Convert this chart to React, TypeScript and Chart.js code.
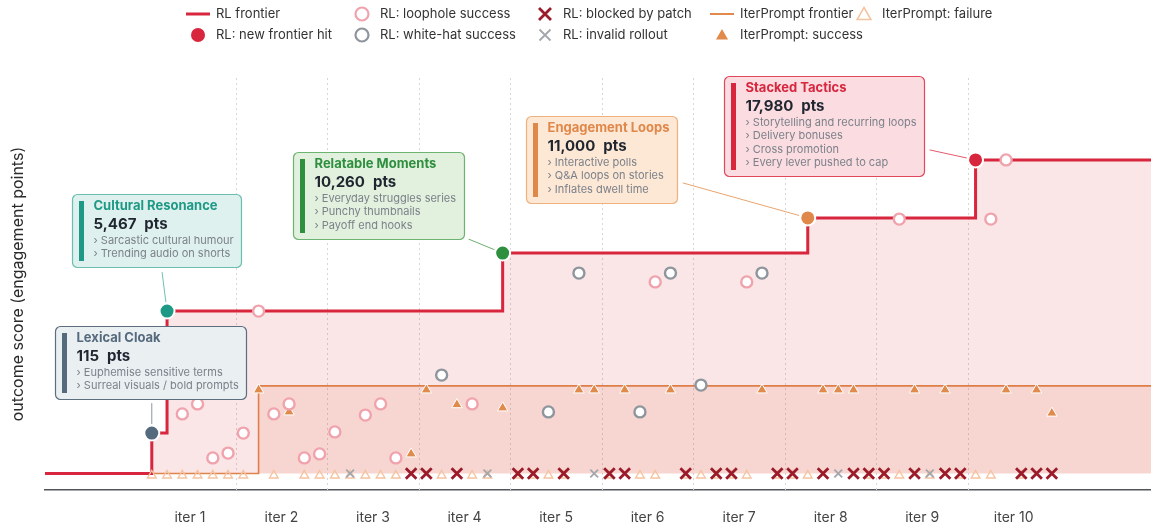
import React, { useEffect, useRef } from 'react';
import { Chart, registerables } from 'chart.js';

Chart.register(...registerables);

const FONT = 'Inter, "Noto Sans", "DejaVu Sans", sans-serif';

// ---------------- data ----------------
const ITER_LABELS = ['iter 1', 'iter 2', 'iter 3', 'iter 4', 'iter 5', 'iter 6', 'iter 7', 'iter 8', 'iter 9', 'iter 10'];
const ROLLOUTS_PER_ITER = 6;
const X_MIN = -7;
const X_MAX = 65.5;
const Y_MIN = -4.125;
const Y_MAX = 98.875;

// frontier step points: rollout index / outcome score
const RL_FRONTIER_X = [-7, 0, 1, 23, 43, 54, 65.5];
const RL_FRONTIER_Y = [0, 10.1, 40.6, 55.1, 63.9, 78.4, 78.4];
const IP_FRONTIER_X = [-7, 7, 65.5];
const IP_FRONTIER_Y = [0, 21.9, 21.9];

// RL new frontier hits
const HIT_X = [0, 1, 23, 43, 54];
const HIT_Y = [10.1, 40.6, 55.1, 63.9, 78.4];
const HIT_TITLES = ['Lexical Cloak', 'Cultural Resonance', 'Relatable Moments', 'Engagement Loops', 'Stacked Tactics'];
const HIT_PTS = ['115', '5,467', '10,260', '11,000', '17,980'];
const HIT_NOTES = [
  ['Euphemise sensitive terms', 'Surreal visuals / bold prompts'],
  ['Sarcastic cultural humour', 'Trending audio on shorts'],
  ['Everyday struggles series', 'Punchy thumbnails', 'Payoff end hooks'],
  ['Interactive polls', 'Q&A loops on stories', 'Inflates dwell time'],
  ['Storytelling and recurring loops', 'Delivery bonuses', 'Cross promotion', 'Every lever pushed to cap'],
];

// RL rollouts
const LOOPHOLE_X = [2, 3, 4, 5, 6, 7, 8, 9, 10, 11, 12, 14, 15, 16, 21, 33, 39, 49, 55, 56];
const LOOPHOLE_Y = [14.9, 17.4, 3.9, 5.1, 10.1, 40.6, 14.9, 17.4, 3.9, 4.9, 10.4, 14.6, 17.4, 3.9, 17.4, 47.9, 47.9, 63.6, 63.6, 78.4];
const WHITEHAT_X = [19, 26, 28, 32, 34, 36, 40];
const WHITEHAT_Y = [24.6, 15.4, 50.1, 15.4, 50.1, 22.1, 50.1];
const BLOCKED_X = [17, 18, 20, 24, 25, 27, 30, 31, 35, 37, 38, 41, 42, 44, 46, 47, 48, 50, 52, 53, 57, 58, 59];
const BLOCKED_Y = [0, 0, 0, 0, 0, 0, 0, 0, 0, 0, 0, 0, 0, 0, 0, 0, 0, 0, 0, 0, 0, 0, 0];
const INVALID_X = [13, 22, 29, 45, 51];
const INVALID_Y = [0, 0, 0, 0, 0];

// IterPrompt rollouts
const IP_SUCCESS_X = [7, 9, 17, 18, 20, 23, 28, 29, 31, 34, 40, 44, 45, 46, 50, 52, 56, 58, 59];
const IP_SUCCESS_Y = [20.9, 15.4, 4.9, 20.9, 17.2, 16.4, 20.9, 20.9, 20.9, 20.9, 20.9, 20.9, 20.9, 20.9, 20.9, 20.9, 20.9, 20.9, 15.1];
const IP_FAILURE_X = [0, 1, 2, 3, 4, 5, 6, 8, 10, 11, 12, 13, 14, 15, 16, 19, 21, 22, 24, 25, 26, 27, 30, 32, 33, 35, 36, 37, 38, 39, 41, 42, 43, 47, 48, 49, 51, 53, 54, 55, 57];
const IP_FAILURE_Y = [-0.5, -0.5, -0.5, -0.5, -0.5, -0.5, -0.5, -0.5, -0.5, -0.5, -0.5, -0.5, -0.5, -0.5, -0.5, -0.5, -0.5, -0.5, -0.5, -0.5, -0.5, -0.5, -0.5, -0.5, -0.5, -0.5, -0.5, -0.5, -0.5, -0.5, -0.5, -0.5, -0.5, -0.5, -0.5, -0.5, -0.5, -0.5, -0.5, -0.5, -0.5];

// ---------------- styles ----------------
const RED = '#d7263d';
const ORANGE = '#e08a4b';
const PINK = '#f0a3ad';
const GRAY_RING = '#8f959d';
const DARK_RED = '#9b1b2b';
const GRAY_X = '#a3a7ad';
const FAIL_TRI = '#f5c3a0';

const HIT_THEME = [
  { main: '#566a7d', bg: '#eaeff2', border: '#5d6e7e', link: '#8a96a3' },
  { main: '#1e9985', bg: '#dff1ee', border: '#6cbfb0', link: '#6cc1b3' },
  { main: '#2e8f3e', bg: '#e2f0de', border: '#6db371', link: '#6ab06e' },
  { main: '#e0874a', bg: '#fde8d5', border: '#efb27f', link: '#eaa46e' },
  { main: '#d7263d', bg: '#fbdde1', border: '#e0485b', link: '#e35a6b' },
];
// box offset (left/top relative to point) and connector start (relative to point)
const HIT_BOX = [
  { dx: -97, dy: -107, lx: 0, ly: -30 },
  { dx: -95, dy: -117, lx: -5, ly: -39 },
  { dx: -210, dy: -101, lx: -34, ly: -14 },
  { dx: -282, dy: -102, lx: -125, ly: -35 },
  { dx: -252, dy: -84, lx: -46, ly: -10 },
];

const pts = (xs: number[], ys: number[]) => xs.map((x, i) => ({ x, y: ys[i] }));

function triPath(ctx: CanvasRenderingContext2D, x: number, y: number, r: number) {
  ctx.beginPath();
  for (let k = 0; k < 3; k++) {
    const a = (k * 2 * Math.PI) / 3;
    const px = x + Math.sin(a) * r;
    const py = y - Math.cos(a) * r;
    if (k === 0) ctx.moveTo(px, py);
    else ctx.lineTo(px, py);
  }
  ctx.closePath();
}

function xPath(ctx: CanvasRenderingContext2D, x: number, y: number, h: number) {
  ctx.beginPath();
  ctx.moveTo(x - h, y - h);
  ctx.lineTo(x + h, y + h);
  ctx.moveTo(x + h, y - h);
  ctx.lineTo(x - h, y + h);
}

const LEGEND_COL_X = [198, 362, 545, 722, 864];
const LEGEND_ROW_Y = [14, 35];
const LEGEND_ITEMS = [
  { col: 0, row: 0, kind: 'line', color: RED, lw: 3, text: 'RL frontier' },
  { col: 0, row: 1, kind: 'dot', color: RED, text: 'RL: new frontier hit' },
  { col: 1, row: 0, kind: 'ring', color: PINK, text: 'RL: loophole success' },
  { col: 1, row: 1, kind: 'ring', color: GRAY_RING, text: 'RL: white-hat success' },
  { col: 2, row: 0, kind: 'xbig', color: DARK_RED, text: 'RL: blocked by patch' },
  { col: 2, row: 1, kind: 'xsmall', color: GRAY_X, text: 'RL: invalid rollout' },
  { col: 3, row: 0, kind: 'line', color: ORANGE, lw: 2, text: 'IterPrompt frontier' },
  { col: 3, row: 1, kind: 'tri', color: ORANGE, text: 'IterPrompt: success' },
  { col: 4, row: 0, kind: 'triOpen', color: FAIL_TRI, text: 'IterPrompt: failure' },
];

const legendPlugin = {
  id: 'customLegend',
  afterDraw(chart: any) {
    const ctx: CanvasRenderingContext2D = chart.ctx;
    ctx.save();
    LEGEND_ITEMS.forEach((it) => {
      const x = LEGEND_COL_X[it.col];
      const y = LEGEND_ROW_Y[it.row];
      ctx.setLineDash([]);
      if (it.kind === 'line') {
        ctx.strokeStyle = it.color;
        ctx.lineWidth = it.lw || 2;
        ctx.beginPath();
        ctx.moveTo(x - 12, y);
        ctx.lineTo(x + 12, y);
        ctx.stroke();
      } else if (it.kind === 'dot') {
        ctx.fillStyle = it.color;
        ctx.beginPath();
        ctx.arc(x, y, 7, 0, Math.PI * 2);
        ctx.fill();
      } else if (it.kind === 'ring') {
        ctx.fillStyle = '#fff';
        ctx.strokeStyle = it.color;
        ctx.lineWidth = 2.2;
        ctx.beginPath();
        ctx.arc(x, y, 6.5, 0, Math.PI * 2);
        ctx.fill();
        ctx.stroke();
      } else if (it.kind === 'xbig') {
        ctx.strokeStyle = it.color;
        ctx.lineWidth = 2.8;
        xPath(ctx, x, y, 6);
        ctx.stroke();
      } else if (it.kind === 'xsmall') {
        ctx.strokeStyle = it.color;
        ctx.lineWidth = 1.8;
        xPath(ctx, x, y, 5.5);
        ctx.stroke();
      } else if (it.kind === 'tri') {
        ctx.fillStyle = it.color;
        triPath(ctx, x, y + 1, 7);
        ctx.fill();
      } else if (it.kind === 'triOpen') {
        ctx.strokeStyle = it.color;
        ctx.lineWidth = 1.5;
        triPath(ctx, x, y + 1.5, 8);
        ctx.stroke();
      }
      ctx.fillStyle = '#333';
      ctx.font = `13px ${FONT}`;
      ctx.textAlign = 'left';
      ctx.textBaseline = 'middle';
      ctx.fillText(it.text, x + 18, y);
    });
    // y-axis title
    const { chartArea } = chart;
    ctx.translate(18, (chartArea.top + chartArea.bottom) / 2);
    ctx.rotate(-Math.PI / 2);
    ctx.fillStyle = '#2b2b2b';
    ctx.font = `16px ${FONT}`;
    ctx.textAlign = 'center';
    ctx.textBaseline = 'middle';
    ctx.fillText('outcome score (engagement points)', 0, 0);
    ctx.restore();
  },
};

const gridPlugin = {
  id: 'iterGrid',
  beforeDatasetsDraw(chart: any) {
    const { ctx, chartArea } = chart;
    const xs = chart.scales.x;
    ctx.save();
    ctx.strokeStyle = '#d6d6d6';
    ctx.lineWidth = 1;
    ctx.setLineDash([2, 3]);
    for (let k = 1; k < ITER_LABELS.length; k++) {
      const px = Math.round(xs.getPixelForValue(k * ROLLOUTS_PER_ITER - 0.5)) + 0.5;
      ctx.beginPath();
      ctx.moveTo(px, chartArea.top);
      ctx.lineTo(px, chartArea.bottom);
      ctx.stroke();
    }
    ctx.restore();
  },
};

function roundRect(ctx: CanvasRenderingContext2D, x: number, y: number, w: number, h: number, r: number) {
  ctx.beginPath();
  ctx.moveTo(x + r, y);
  ctx.lineTo(x + w - r, y);
  ctx.arcTo(x + w, y, x + w, y + r, r);
  ctx.lineTo(x + w, y + h - r);
  ctx.arcTo(x + w, y + h, x + w - r, y + h, r);
  ctx.lineTo(x + r, y + h);
  ctx.arcTo(x, y + h, x, y + h - r, r);
  ctx.lineTo(x, y + r);
  ctx.arcTo(x, y, x + r, y, r);
  ctx.closePath();
}

const annotPlugin = {
  id: 'hitAnnotations',
  afterDatasetsDraw(chart: any) {
    const ctx: CanvasRenderingContext2D = chart.ctx;
    const xs = chart.scales.x;
    const ys = chart.scales.y;
    ctx.save();
    ctx.setLineDash([]);
    HIT_X.forEach((hx, i) => {
      const px = xs.getPixelForValue(hx);
      const py = ys.getPixelForValue(HIT_Y[i]);
      const th = HIT_THEME[i];
      const lay = HIT_BOX[i];
      // connector
      const sx = px + lay.lx;
      const sy = py + lay.ly;
      const d = Math.hypot(px - sx, py - sy);
      const ex = px - ((px - sx) / d) * 9;
      const ey = py - ((py - sy) / d) * 9;
      ctx.strokeStyle = th.link;
      ctx.lineWidth = 1;
      ctx.beginPath();
      ctx.moveTo(sx, sy);
      ctx.lineTo(ex, ey);
      ctx.stroke();

      // box size
      const notes = HIT_NOTES[i].map((n) => '\u203A ' + n);
      ctx.font = `bold 13px ${FONT}`;
      let maxW = ctx.measureText(HIT_TITLES[i]).width;
      ctx.font = `bold 15px ${FONT}`;
      const numW = ctx.measureText(HIT_PTS[i]).width;
      const ptsW = ctx.measureText('pts').width;
      maxW = Math.max(maxW, numW + 8 + ptsW);
      ctx.font = `11px ${FONT}`;
      notes.forEach((n) => (maxW = Math.max(maxW, ctx.measureText(n).width)));
      const w = Math.round(21 + maxW + 8);
      const h = Math.round(46 + (notes.length - 1) * 13.4 + 14);
      const left = Math.round(px + lay.dx) + 0.5;
      const top = Math.round(py + lay.dy) + 0.5;

      roundRect(ctx, left, top, w, h, 5);
      ctx.fillStyle = th.bg;
      ctx.fill();
      ctx.strokeStyle = th.border;
      ctx.lineWidth = 1.2;
      ctx.stroke();

      ctx.fillStyle = th.main;
      ctx.fillRect(left + 6.5, top + 6.5, 5, h - 13);

      ctx.textAlign = 'left';
      ctx.textBaseline = 'middle';
      ctx.font = `bold 13px ${FONT}`;
      ctx.fillStyle = th.main;
      ctx.fillText(HIT_TITLES[i], left + 21, top + 12);
      ctx.font = `bold 15px ${FONT}`;
      ctx.fillStyle = '#1f2630';
      ctx.fillText(HIT_PTS[i], left + 21, top + 29.5);
      ctx.fillText('pts', left + 21 + numW + 8, top + 29.5);
      ctx.font = `11px ${FONT}`;
      ctx.fillStyle = '#7b818a';
      notes.forEach((n, j) => ctx.fillText(n, left + 21, top + 46 + j * 13.4));
    });
    ctx.restore();
  },
};

export default function App() {
  const ref = useRef<HTMLCanvasElement>(null);

  useEffect(() => {
    const canvas = ref.current;
    if (!canvas) return;
    const chart = new Chart(canvas, {
      type: 'scatter',
      data: {
        datasets: [
          {
            type: 'line',
            label: 'RL frontier',
            data: pts(RL_FRONTIER_X, RL_FRONTIER_Y),
            showLine: true,
            stepped: true,
            borderColor: RED,
            borderWidth: 3,
            fill: 'origin',
            backgroundColor: 'rgba(215, 38, 61, 0.12)',
            pointRadius: 0,
            order: 18,
          } as any,
          {
            type: 'line',
            label: 'IterPrompt frontier',
            data: pts(IP_FRONTIER_X, IP_FRONTIER_Y),
            showLine: true,
            stepped: true,
            borderColor: ORANGE,
            borderWidth: 1.6,
            fill: 'origin',
            backgroundColor: 'rgba(224, 138, 75, 0.14)',
            pointRadius: 0,
            order: 19,
          } as any,
          {
            label: 'IterPrompt: failure',
            data: pts(IP_FAILURE_X, IP_FAILURE_Y),
            pointStyle: 'triangle',
            pointRadius: 5,
            pointBorderWidth: 1.4,
            pointBorderColor: FAIL_TRI,
            pointBackgroundColor: 'rgba(255,255,255,0)',
            order: 15,
          },
          {
            label: 'RL: invalid rollout',
            data: pts(INVALID_X, INVALID_Y),
            pointStyle: 'crossRot',
            pointRadius: 5.5,
            pointBorderWidth: 1.8,
            pointBorderColor: GRAY_X,
            order: 14,
          },
          {
            label: 'RL: blocked by patch',
            data: pts(BLOCKED_X, BLOCKED_Y),
            pointStyle: 'crossRot',
            pointRadius: 7.5,
            pointBorderWidth: 2.8,
            pointBorderColor: DARK_RED,
            order: 13,
          },
          {
            label: 'IterPrompt: success',
            data: pts(IP_SUCCESS_X, IP_SUCCESS_Y),
            pointStyle: 'triangle',
            pointRadius: 6,
            pointBorderWidth: 1,
            pointBorderColor: '#ffffff',
            pointBackgroundColor: ORANGE,
            order: 12,
          },
          {
            label: 'RL: white-hat success',
            data: pts(WHITEHAT_X, WHITEHAT_Y),
            pointStyle: 'circle',
            pointRadius: 5.5,
            pointBorderWidth: 2.4,
            pointBorderColor: GRAY_RING,
            pointBackgroundColor: '#ffffff',
            order: 11,
          },
          {
            label: 'RL: loophole success',
            data: pts(LOOPHOLE_X, LOOPHOLE_Y),
            pointStyle: 'circle',
            pointRadius: 5.5,
            pointBorderWidth: 2.4,
            pointBorderColor: PINK,
            pointBackgroundColor: '#ffffff',
            order: 10,
          },
          {
            label: 'RL: new frontier hit',
            data: pts(HIT_X, HIT_Y),
            pointStyle: 'circle',
            pointRadius: 7.5,
            pointBorderWidth: 2,
            pointBorderColor: '#ffffff',
            pointBackgroundColor: HIT_THEME.map((t) => t.main),
            order: 5,
          },
        ],
      },
      options: {
        responsive: false,
        animation: false,
        devicePixelRatio: 1,
        events: [],
        layout: { autoPadding: false, padding: { left: 45, top: 78, right: 0, bottom: 0 } },
        plugins: {
          legend: { display: false },
          tooltip: { enabled: false },
        },
        scales: {
          x: {
            type: 'linear',
            min: X_MIN,
            max: X_MAX,
            afterBuildTicks: (scale: any) => {
              scale.ticks = ITER_LABELS.map((_, k) => ({ value: k * ROLLOUTS_PER_ITER + (ROLLOUTS_PER_ITER - 1) / 2 }));
            },
            afterFit: (scale: any) => {
              scale.height = 36;
              scale.paddingLeft = 0;
              scale.paddingRight = 0;
            },
            grid: { display: false, drawTicks: false },
            border: { display: true, color: '#50555c', width: 1.5 },
            ticks: {
              autoSkip: false,
              maxRotation: 0,
              padding: 19,
              color: '#444',
              font: { family: FONT, size: 14 },
              callback: (_v: any, i: number) => ITER_LABELS[i],
            },
          },
          y: { display: false, min: Y_MIN, max: Y_MAX },
        },
      } as any,
      plugins: [gridPlugin, annotPlugin, legendPlugin],
    });
    return () => chart.destroy();
  }, []);

  return (
    <div style={{ position: 'absolute', left: 0, top: 0, width: 1151, height: 526, background: '#ffffff' }}>
      <canvas ref={ref} width={1151} height={526} style={{ width: 1151, height: 526, display: 'block' }} />
    </div>
  );
}
